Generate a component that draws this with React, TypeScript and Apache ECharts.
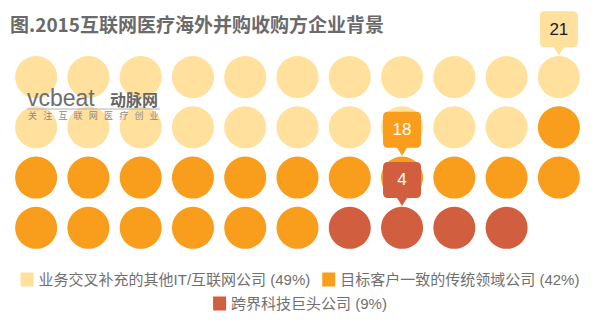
import React, { useEffect, useRef } from "react";
import * as echarts from "echarts";

const TITLE = "图.2015互联网医疗海外并购收购方企业背景";
const COLS = 11;
const categories = ["业务交叉补充的其他IT/互联网公司", "目标客户一致的传统领域公司", "跨界科技巨头公司"];
const counts = [21, 18, 4];
const shares = [49, 42, 9];
const colors = ["#FFE09D", "#F89D1C", "#D15E3E"];
const pinCells: [number, number][] = [[10, 0], [7, 2], [7, 3]];
const pinTextColors = ["#1A1A1A", "#FFFFFF", "#FFFFFF"];
const WATERMARK_SUB = "关注互联网医疗创业";

const PIN = "path://M5,0 H33 Q38,0 38,5 V31 Q38,36 33,36 H24 L19,44 L14,36 H5 Q0,36 0,31 V5 Q0,0 5,0 Z";
const FONT = '"Liberation Sans", "Noto Sans CJK SC", sans-serif';

export default function App() {
  const ref = useRef<HTMLDivElement>(null);
  useEffect(() => {
    document.body.style.margin = "0";
    const chart = echarts.init(ref.current!, undefined, { renderer: "svg" });
    let start = 0;
    const series = categories.map((name, i) => {
      const data: number[][] = [];
      for (let k = 0; k < counts[i]; k++) {
        const idx = start + k;
        data.push([idx % COLS, Math.floor(idx / COLS)]);
      }
      start += counts[i];
      return {
        name,
        type: "scatter",
        data,
        symbol: "circle",
        symbolSize: 42,
        itemStyle: { color: colors[i], opacity: 1 },
        emphasis: { disabled: true },
        markPoint: {
          symbol: PIN,
          symbolSize: [38, 44],
          symbolOffset: [0, -44],
          itemStyle: { color: colors[i], opacity: 1 },
          label: {
            show: true,
            formatter: "{c}",
            color: pinTextColors[i],
            fontSize: 17,
            fontFamily: FONT,
            offset: [0, -4],
          },
          data: [{ coord: pinCells[i], value: counts[i] }],
        },
      };
    });
    const subChars = WATERMARK_SUB.split("").map((ch, i) => ({
      type: "text",
      z: 100,
      x: 28 + i * 15.2,
      y: 116,
      style: { text: ch, fontSize: 9, fill: "#8a8a8a", verticalAlign: "middle", fontFamily: FONT },
    }));
    const legendBase = {
      left: "center",
      icon: "rect",
      itemWidth: 13,
      itemHeight: 14,
      itemGap: 12,
      padding: 0,
      formatter: (n: string) => `${n} (${shares[categories.indexOf(n)]}%)`,
      textStyle: { fontSize: 15, color: "#707070", fontFamily: FONT },
      selectedMode: false,
    };
    chart.setOption({
      animation: false,
      backgroundColor: "#fff",
      title: {
        text: TITLE,
        left: 10,
        top: 14,
        padding: 0,
        textStyle: { fontSize: 19, fontWeight: "bold", color: "#6a6a6a", fontFamily: '"Noto Sans CJK SC", sans-serif' },
      },
      grid: { left: 10, width: 575, top: 52, height: 201 },
      xAxis: { type: "value", min: -0.5, max: 10.5, show: false },
      yAxis: { type: "value", min: -0.5, max: 3.5, inverse: true, show: false },
      legend: [
        { ...legendBase, top: 272, data: [categories[0], categories[1]] },
        { ...legendBase, top: 296, data: [categories[2]] },
      ],
      graphic: [
        { type: "text", z: 100, x: 27, y: 98, style: { text: "vcbeat", fontSize: 23, fill: "#6e6e6e", verticalAlign: "middle", fontFamily: FONT } },
        { type: "text", z: 100, x: 110, y: 99, style: { text: "动脉网", fontSize: 16, fontWeight: "bold", fill: "#666", verticalAlign: "middle", fontFamily: '"Noto Sans CJK SC", sans-serif' } },
        { type: "line", z: 100, shape: { x1: 27, y1: 109, x2: 160, y2: 109 }, style: { stroke: "#b0b0b0", lineWidth: 1 } },
        ...subChars,
      ],
      series,
    });
    return () => chart.dispose();
  }, []);
  return <div ref={ref} style={{ position: "fixed", left: 0, top: 0, width: 600, height: 323 }} />;
}
